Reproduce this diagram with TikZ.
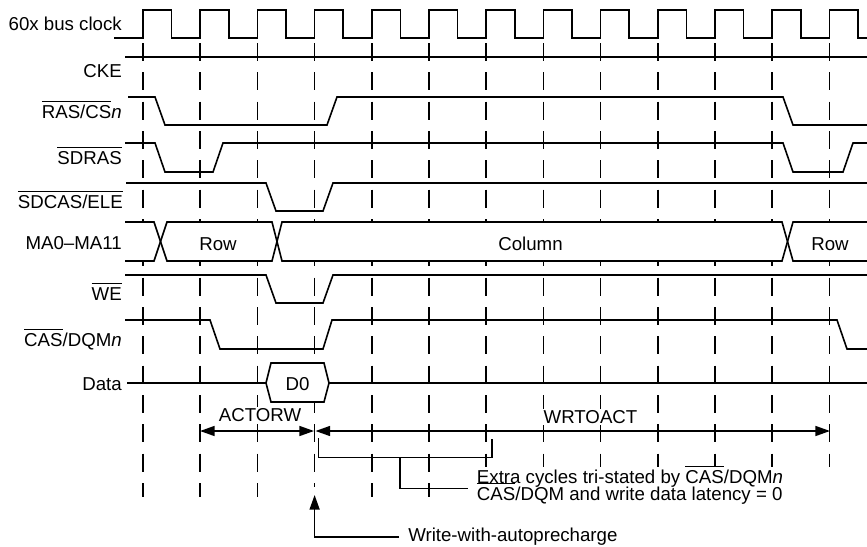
\documentclass[tikz,border=0pt]{standalone}
\usepackage{fontspec}
\setmainfont{Liberation Sans}
\usetikzlibrary{arrows.meta}
\newcommand{\ovl}[1]{\vbox{\hrule height 0.8pt\kern 2pt\hbox{#1}}}
\begin{document}
\begin{tikzpicture}[x=0.75pt,y=-0.75pt,
  sig/.style={line width=1.2pt, line join=miter},
  gridline/.style={line width=1.25pt, dash pattern=on 13.5pt off 8.5pt},
  lbl/.style={font=\fontsize{14}{16}\selectfont, inner sep=0pt, anchor=base east},
  txt/.style={font=\fontsize{14}{16}\selectfont, inner sep=0pt},
  tri/.tip={Triangle[length=11pt,width=7.5pt]}]
\useasboundingbox (0,0) rectangle (867,546);

% dashed clock-edge columns
\foreach \k/\e in {0/497,1/497,2/497,3/487,4/497,5/497,6/467,7/467,8/467,9/467,10/467,11/467,12/467}
  \draw[gridline] ({143+57.2*\k},43) -- ({143+57.2*\k},\e);

% clock
\draw[sig] (114,38) \foreach \k in {0,...,12}{ -- ({143+57.2*\k},38) -- ({143+57.2*\k},10) -- ({171.6+57.2*\k},10) -- ({171.6+57.2*\k},38)} -- (867,38);

% CKE
\draw[sig] (125,57) -- (867,57);
% RAS/CSn
\draw[sig] (128,97) -- (155,97) -- (165,125) -- (327,125) -- (337,97) -- (783,97) -- (793,125) -- (867,125);
% SDRAS
\draw[sig] (125,143) -- (155,143) -- (165,172) -- (213,172) -- (223,143) -- (783,143) -- (793,172) -- (843,172) -- (853,143) -- (867,143);
% SDCAS/ELE
\draw[sig] (126,183) -- (266,183) -- (276,211) -- (323,211) -- (333,183) -- (867,183);
% MA bus
\fill[white] (125,222) rectangle (867,261);
\draw[sig] (125,222) -- (154,222) -- (167,261) -- (272,261) -- (282,222) -- (782,222) -- (793,261) -- (867,261);
\draw[sig] (125,261) -- (154,261) -- (167,222) -- (272,222) -- (282,261) -- (782,261) -- (793,222) -- (867,222);
% WE
\draw[sig] (125,275) -- (266,275) -- (276,303) -- (323,303) -- (333,275) -- (867,275);
% CAS/DQMn
\draw[sig] (125,320) -- (210,320) -- (220,349) -- (323,349) -- (332,320) -- (837,320) -- (847,349) -- (867,349);
% Data
\draw[sig] (127,383) -- (266,383);
\draw[sig,fill=white] (266,383) -- (271,363) -- (324,363) -- (329,383) -- (324,402) -- (271,402) -- cycle;
\draw[sig] (329,383) -- (867,383);

% signal labels
\node[lbl] (lclk) at (122,31) {60x bus clock};
\node[lbl] (lcke) at (122,77) {CKE};
\node[lbl] (lras) at (122,118.5) {\ovl{RAS/CS}\textit{n}};
\node[lbl] (lsdras) at (122,164) {\ovl{SDRAS}};
\node[lbl] (lsdcas) at (123,208) {\ovl{SDCAS/ELE}};
\node[lbl] (lma) at (122,249.5) {MA0–MA11};
\node[lbl] (lwe) at (122,300) {\ovl{WE}};
\node[lbl] (lcas) at (122,346) {\ovl{CAS}/DQM\textit{n}};
\node[lbl] (ldata) at (122,390.5) {Data};

% bus values
\node[txt,anchor=base] (row1) at (218,250) {Row};
\node[txt,anchor=base] (col) at (530.5,250) {Column};
\node[txt,anchor=base] (row2) at (830,250) {Row};
\node[txt,anchor=base] (d0) at (297.5,390) {D0};

% timing intervals
\coordinate (a1) at (200,431);
\coordinate (a2) at (314,431);
\coordinate (w1) at (315.5,431);
\coordinate (w2) at (830,431);
\draw[sig,tri-tri] (a1) -- (a2);
\draw[sig,tri-tri] (w1) -- (w2);
\node[txt,anchor=base,fill=white,inner sep=1pt] (actorw) at (260,421) {ACTORW};
\node[txt,anchor=base,fill=white,inner sep=1pt] (wrtoact) at (590.5,423) {WRTOACT};

% bracket for extra cycles
\coordinate (b1) at (318.3,438);
\coordinate (b2) at (318.3,457.5);
\coordinate (b3) at (491.7,457.5);
\coordinate (b4) at (491.7,439);
\coordinate (bm) at (400,457.5);
\coordinate (bn) at (400,488.3);
\coordinate (be) at (468.3,488.3);
\draw[sig] (b1) -- (b2) -- (b3) -- (b4);
\draw[sig] (bm) -- (bn) -- (be);
\node[txt,anchor=base west] (extra1) at (476.7,483) {Extra cycles tri-stated by \ovl{CAS}/DQM\textit{n}};
\node[txt,anchor=base west] (extra2) at (476.7,500) {\ovl{CAS}/DQM and write data latency = 0};

% write-with-autoprecharge
\coordinate (p0) at (399,537);
\coordinate (p1) at (314.6,537);
\coordinate (p2) at (314.6,495);
\draw[sig,-tri] (p0) -- (p1) -- (p2);
\node[txt,anchor=base west] (wwa) at (408,541.5) {Write-with-autoprecharge};
\end{tikzpicture}
\end{document}
